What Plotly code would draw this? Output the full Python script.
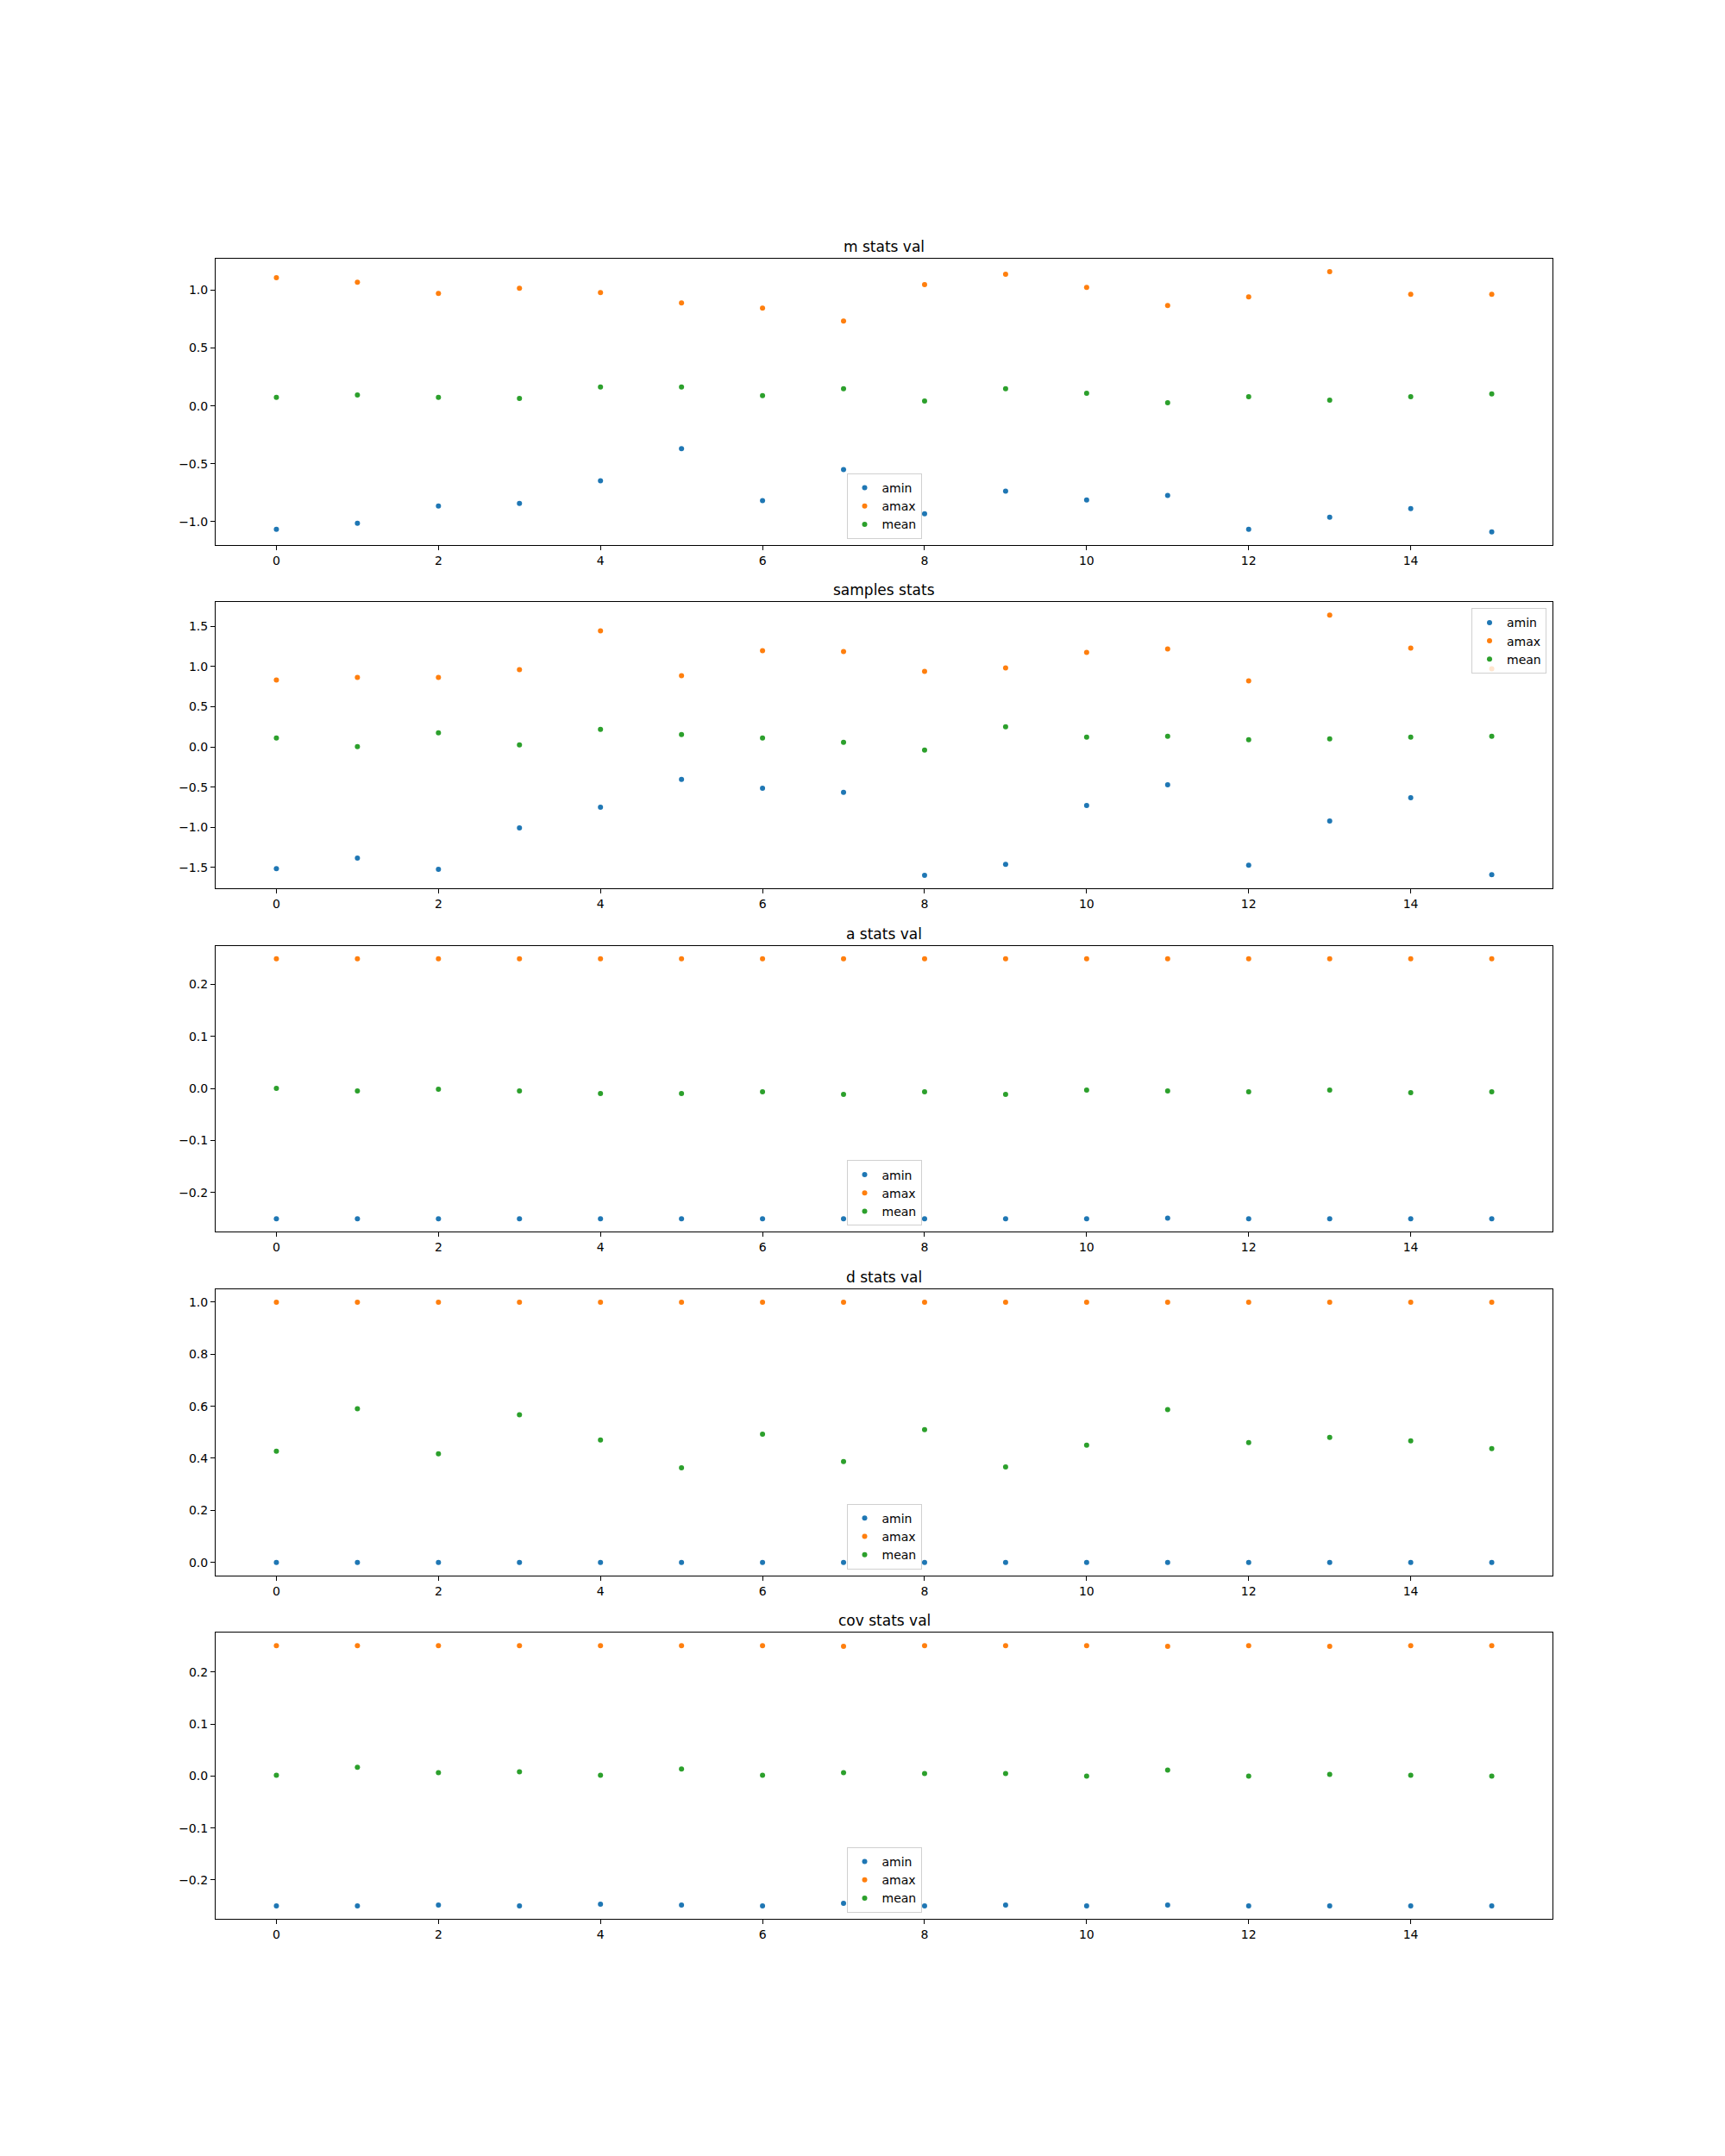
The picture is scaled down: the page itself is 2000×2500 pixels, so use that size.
import plotly.graph_objects as go

x_vals = list(range(16))

titles = ["m stats val", "samples stats", "a stats val", "d stats val", "cov stats val"]
series_names = ["amin", "amax", "mean"]
colors = ["#1f77b4", "#ff7f0e", "#2ca02c"]

m_amin = [-1.067, -1.015, -0.865, -0.843, -0.648, -0.370, -0.820, -0.550, -0.933, -0.738, -0.813, -0.775, -1.067, -0.963, -0.888, -1.090]
m_amax = [1.108, 1.070, 0.973, 1.018, 0.980, 0.890, 0.845, 0.733, 1.048, 1.138, 1.025, 0.868, 0.943, 1.160, 0.965, 0.965]
m_mean = [0.073, 0.095, 0.073, 0.065, 0.163, 0.163, 0.088, 0.148, 0.043, 0.148, 0.110, 0.028, 0.080, 0.050, 0.080, 0.103]

s_amin = [-1.513, -1.383, -1.523, -1.007, -0.749, -0.405, -0.513, -0.566, -1.598, -1.459, -0.728, -0.470, -1.470, -0.921, -0.631, -1.588]
s_amax = [0.832, 0.864, 0.864, 0.960, 1.444, 0.885, 1.197, 1.186, 0.939, 0.982, 1.176, 1.219, 0.821, 1.638, 1.229, 0.971]
s_mean = [0.111, 0.004, 0.176, 0.025, 0.219, 0.154, 0.111, 0.057, -0.039, 0.251, 0.122, 0.133, 0.090, 0.100, 0.122, 0.133]

a_amin = [-0.2505, -0.2505, -0.2505, -0.2505, -0.2505, -0.2505, -0.2505, -0.2505, -0.2505, -0.2505, -0.2505, -0.2490, -0.2505, -0.2505, -0.2505, -0.2505]
a_amax = [0.2490] * 16
a_mean = [0.0, -0.005, -0.0017, -0.005, -0.010, -0.010, -0.0067, -0.0117, -0.0067, -0.0117, -0.0033, -0.005, -0.0067, -0.0033, -0.0084, -0.0067]

d_amin = [0.0] * 16
d_amax = [1.0] * 16
d_mean = [0.427, 0.590, 0.417, 0.567, 0.470, 0.363, 0.493, 0.387, 0.510, 0.367, 0.450, 0.587, 0.460, 0.480, 0.467, 0.437]

c_amin = [-0.2497, -0.2497, -0.2480, -0.2497, -0.2464, -0.2480, -0.2497, -0.2447, -0.2497, -0.2480, -0.2497, -0.2480, -0.2497, -0.2497, -0.2497, -0.2497]
c_amax = [0.2510, 0.2510, 0.2510, 0.2510, 0.2510, 0.2510, 0.2510, 0.2495, 0.2510, 0.2510, 0.2510, 0.2495, 0.2510, 0.2495, 0.2510, 0.2510]
c_mean = [0.0017, 0.0168, 0.0067, 0.0084, 0.0017, 0.0134, 0.0017, 0.0067, 0.005, 0.005, 0.0, 0.0117, 0.0, 0.0034, 0.0017, 0.0]

panels = [
    (m_amin, m_amax, m_mean),
    (s_amin, s_amax, s_mean),
    (a_amin, a_amax, a_mean),
    (d_amin, d_amax, d_mean),
    (c_amin, c_amax, c_mean),
]

x_ticks = [0, 2, 4, 6, 8, 10, 12, 14]
y_ticks = [
    [-1.0, -0.5, 0.0, 0.5, 1.0],
    [-1.5, -1.0, -0.5, 0.0, 0.5, 1.0, 1.5],
    [-0.2, -0.1, 0.0, 0.1, 0.2],
    [0.0, 0.2, 0.4, 0.6, 0.8, 1.0],
    [-0.2, -0.1, 0.0, 0.1, 0.2],
]
y_ticktext = [
    ["−1.0", "−0.5", "0.0", "0.5", "1.0"],
    ["−1.5", "−1.0", "−0.5", "0.0", "0.5", "1.0", "1.5"],
    ["−0.2", "−0.1", "0.0", "0.1", "0.2"],
    ["0.0", "0.2", "0.4", "0.6", "0.8", "1.0"],
    ["−0.2", "−0.1", "0.0", "0.1", "0.2"],
]

W, H = 2000, 2500
left, right = 250, 1800
top0, bottom_all = 300, 2225
n = 5
h = (bottom_all - top0) / (n + 0.2 * (n - 1))
gap = 0.2 * h

FONT = "DejaVu Sans"
fig = go.Figure()
layout = dict(
    width=W, height=H,
    margin=dict(l=0, r=0, t=0, b=0),
    paper_bgcolor="white", plot_bgcolor="white",
    font=dict(family=FONT, size=14, color="black"),
    annotations=[],
)

for i, (vals, title) in enumerate(zip(panels, titles)):
    top = top0 + i * (h + gap)
    bot = top + h
    idx = "" if i == 0 else str(i + 1)
    lg = "legend" if i == 0 else f"legend{i + 1}"
    for name, col, ys in zip(series_names, colors, vals):
        fig.add_trace(go.Scatter(
            x=x_vals, y=ys, mode="markers", name=name,
            marker=dict(color=col, size=6, line=dict(width=0)),
            xaxis="x" + idx, yaxis="y" + idx, legend=lg,
        ))
    allv = [v for s in vals for v in s]
    lo, hi = min(allv), max(allv)
    pad = 0.05 * (hi - lo)
    ydom = [1 - bot / H, 1 - top / H]
    axis_common = dict(
        showline=True, mirror=True, linecolor="black", linewidth=1.1,
        ticks="outside", ticklen=5, tickwidth=1.1, tickcolor="black",
        showgrid=False, zeroline=False,
        tickfont=dict(family=FONT, size=14, color="black"),
    )
    layout["xaxis" + idx] = dict(
        domain=[left / W, right / W], anchor="y" + idx,
        range=[-0.75, 15.75], tickvals=x_ticks, **axis_common,
    )
    layout["yaxis" + idx] = dict(
        domain=ydom, anchor="x" + idx,
        range=[lo - pad, hi + pad], tickvals=y_ticks[i], ticktext=y_ticktext[i],
        **axis_common,
    )
    layout["annotations"].append(dict(
        text=title, xref="paper", yref="paper",
        x=(left + right) / 2 / W, y=1 - top / H,
        xanchor="center", yanchor="bottom", yshift=2, showarrow=False,
        font=dict(family=FONT, size=17, color="black"),
    ))
    leg = dict(
        bgcolor="rgba(255,255,255,0.8)", bordercolor="#d0d0d0", borderwidth=1,
        font=dict(family=FONT, size=14, color="black"),
        itemwidth=30, tracegroupgap=0,
    )
    if i == 1:
        leg.update(x=(right - 7) / W, y=1 - (top + 7) / H, xanchor="right", yanchor="top")
    else:
        leg.update(x=(left + right) / 2 / W, y=1 - (bot - 7) / H, xanchor="center", yanchor="bottom")
    layout[lg] = leg

fig.update_layout(**layout)
fig.write_html("out.html")
